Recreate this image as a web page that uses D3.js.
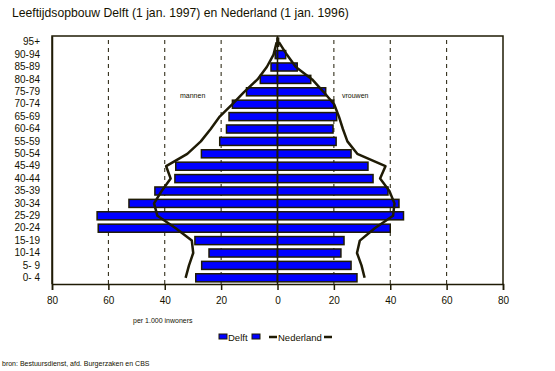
<!DOCTYPE html>
<html>
<head>
<meta charset="utf-8">
<script src="https://cdn.jsdelivr.net/npm/d3@7"></script>
<style>
  body { margin: 0; background: #fff; }
  text { font-family: "Liberation Sans", Arial, sans-serif; fill: #141200; }
</style>
</head>
<body>
<div id="chart"></div>
<script>
// leeftijdsklassen, van jong naar oud
var ages = ["0- 4", "5- 9", "10-14", "15-19", "20-24", "25-29", "30-34", "35-39", "40-44", "45-49",
            "50-54", "55-59", "60-64", "65-69", "70-74", "75-79", "80-84", "85-89", "90-94", "95+"];
// per 1.000 inwoners
var delftMannen   = [29, 26.9, 24.3, 29.3, 63.6, 64, 52.7, 43.5, 36.4, 36.1, 27, 20.5, 18.1, 17.2, 16, 11, 6.1, 2.3, 0.8, 0.2];
var delftVrouwen  = [28.2, 26.1, 22.5, 23.6, 40, 44.7, 43.1, 39.2, 33.9, 32.1, 26.1, 20.8, 19.7, 21, 20, 17.1, 11.8, 7, 2.9, 0.4];
var nlMannen      = [32.6, 31.4, 29.9, 30.4, 36.1, 42.6, 43.8, 41.1, 37.9, 39.5, 32, 27.2, 23.7, 20.5, 16, 11.8, 7.1, 3.8, 1.4, 0.3];
var nlVrouwen     = [30.9, 29.8, 28.2, 29.2, 34.5, 41, 41.5, 39.7, 36.4, 38.3, 28.3, 24.8, 23.2, 21.8, 20.1, 16.3, 12.3, 6.5, 3.3, 0.5];
var xTicks = [-80, -60, -40, -20, 0, 20, 40, 60, 80];

var width = 555, height = 371;
var plot = {left: 52, right: 503, top: 36, bottom: 284};
var ink = "#1f1b05";

var svg = d3.select("#chart")
  .append("svg")
  .attr("width", width)
  .attr("height", height);

var x = d3.scaleLinear().domain([-80, 80]).range([plot.left, plot.right]);
var y = d3.scaleBand()
  .domain(ages.slice().reverse())
  .range([plot.top, plot.bottom])
  .paddingInner(0.35)
  .paddingOuter(0.175);
var mid = function(a) { return y(a) + y.bandwidth() / 2; };

// title
svg.append("text")
  .attr("x", 12)
  .attr("y", 17)
  .style("font-size", "12.2px")
  .text("Leeftijdsopbouw Delft (1 jan. 1997) en Nederland (1 jan. 1996)");

// dashed grid
svg.append("g")
  .selectAll("line")
  .data(xTicks.filter(function(d) { return d !== 0 && Math.abs(d) !== 80; }))
  .enter()
  .append("line")
  .attr("x1", function(d) { return x(d); })
  .attr("x2", function(d) { return x(d); })
  .attr("y1", plot.top + 4)
  .attr("y2", plot.bottom)
  .attr("stroke", ink)
  .attr("stroke-width", 1)
  .attr("stroke-dasharray", "4,4");

// Delft bars
var rows = ages.map(function(a, i) {
  return {age: a, m: delftMannen[i], v: delftVrouwen[i]};
});
var bars = svg.append("g");
bars.selectAll(".man")
  .data(rows)
  .enter()
  .append("rect")
  .attr("x", function(d) { return x(-d.m); })
  .attr("y", function(d) { return y(d.age); })
  .attr("width", function(d) { return x(0) - x(-d.m); })
  .attr("height", y.bandwidth())
  .attr("fill", "#0000ff")
  .attr("stroke", ink)
  .attr("stroke-width", 1.5);
bars.selectAll(".vrouw")
  .data(rows)
  .enter()
  .append("rect")
  .attr("x", x(0))
  .attr("y", function(d) { return y(d.age); })
  .attr("width", function(d) { return x(d.v) - x(0); })
  .attr("height", y.bandwidth())
  .attr("fill", "#0000ff")
  .attr("stroke", ink)
  .attr("stroke-width", 1.5);

// zero line
svg.append("line")
  .attr("x1", x(0)).attr("x2", x(0))
  .attr("y1", plot.top).attr("y2", plot.bottom)
  .attr("stroke", ink)
  .attr("stroke-width", 1.5);

// Nederland lines
var lineM = d3.line()
  .x(function(d) { return x(-d); })
  .y(function(d, i) { return mid(ages[i]); });
var lineV = d3.line()
  .x(function(d) { return x(d); })
  .y(function(d, i) { return mid(ages[i]); });
svg.append("path")
  .attr("d", lineM(nlMannen))
  .attr("fill", "none")
  .attr("stroke", ink)
  .attr("stroke-width", 2.5)
  .attr("stroke-linejoin", "round");
svg.append("path")
  .attr("d", lineV(nlVrouwen))
  .attr("fill", "none")
  .attr("stroke", ink)
  .attr("stroke-width", 2.5)
  .attr("stroke-linejoin", "round");

// frame
svg.append("path")
  .attr("d", "M" + plot.left + "," + plot.bottom + "V" + plot.top + "H" + plot.right + "V" + plot.bottom)
  .attr("fill", "none")
  .attr("stroke", ink)
  .attr("stroke-width", 1.5);

// axes
var xAxis = svg.append("g")
  .attr("transform", "translate(0," + plot.bottom + ")")
  .call(d3.axisBottom(x).tickValues(xTicks).tickSize(6).tickPadding(7)
    .tickFormat(function(d) { return Math.abs(d); }));
xAxis.selectAll("line, path").attr("stroke", ink).attr("stroke-width", 1.5);
xAxis.selectAll("text").style("font-size", "10px").attr("fill", ink);

var yAxis = svg.append("g")
  .attr("transform", "translate(" + plot.left + ",0)")
  .call(d3.axisLeft(y).tickSize(0).tickPadding(12));
yAxis.select(".domain").attr("stroke", ink).attr("stroke-width", 1.5);
yAxis.selectAll("text").style("font-size", "10px").attr("fill", ink);

// labels
svg.append("text").attr("x", 180).attr("y", 98).style("font-size", "7px").text("mannen");
svg.append("text").attr("x", 342).attr("y", 98).style("font-size", "7px").text("vrouwen");
svg.append("text").attr("x", 133).attr("y", 323).style("font-size", "7px").text("per 1.000 inwoners");

// legend
var legend = svg.append("g");
legend.append("rect").attr("x", 219).attr("y", 334).attr("width", 8).attr("height", 5)
  .attr("fill", "#0000ff").attr("stroke", ink).attr("stroke-width", 1);
legend.append("text").attr("x", 228).attr("y", 341).style("font-size", "9.5px").text("Delft");
legend.append("rect").attr("x", 252).attr("y", 334).attr("width", 8).attr("height", 5)
  .attr("fill", "#0000ff").attr("stroke", ink).attr("stroke-width", 1);
legend.append("line").attr("x1", 269).attr("x2", 277).attr("y1", 337).attr("y2", 337)
  .attr("stroke", ink).attr("stroke-width", 2.5);
legend.append("text").attr("x", 278).attr("y", 341).style("font-size", "9.5px").text("Nederland");
legend.append("line").attr("x1", 324).attr("x2", 332).attr("y1", 337).attr("y2", 337)
  .attr("stroke", ink).attr("stroke-width", 2.5);

// source
svg.append("text").attr("x", 2).attr("y", 366).style("font-size", "7px")
  .text("bron: Bestuursdienst, afd. Burgerzaken en CBS");
</script>
</body>
</html>
